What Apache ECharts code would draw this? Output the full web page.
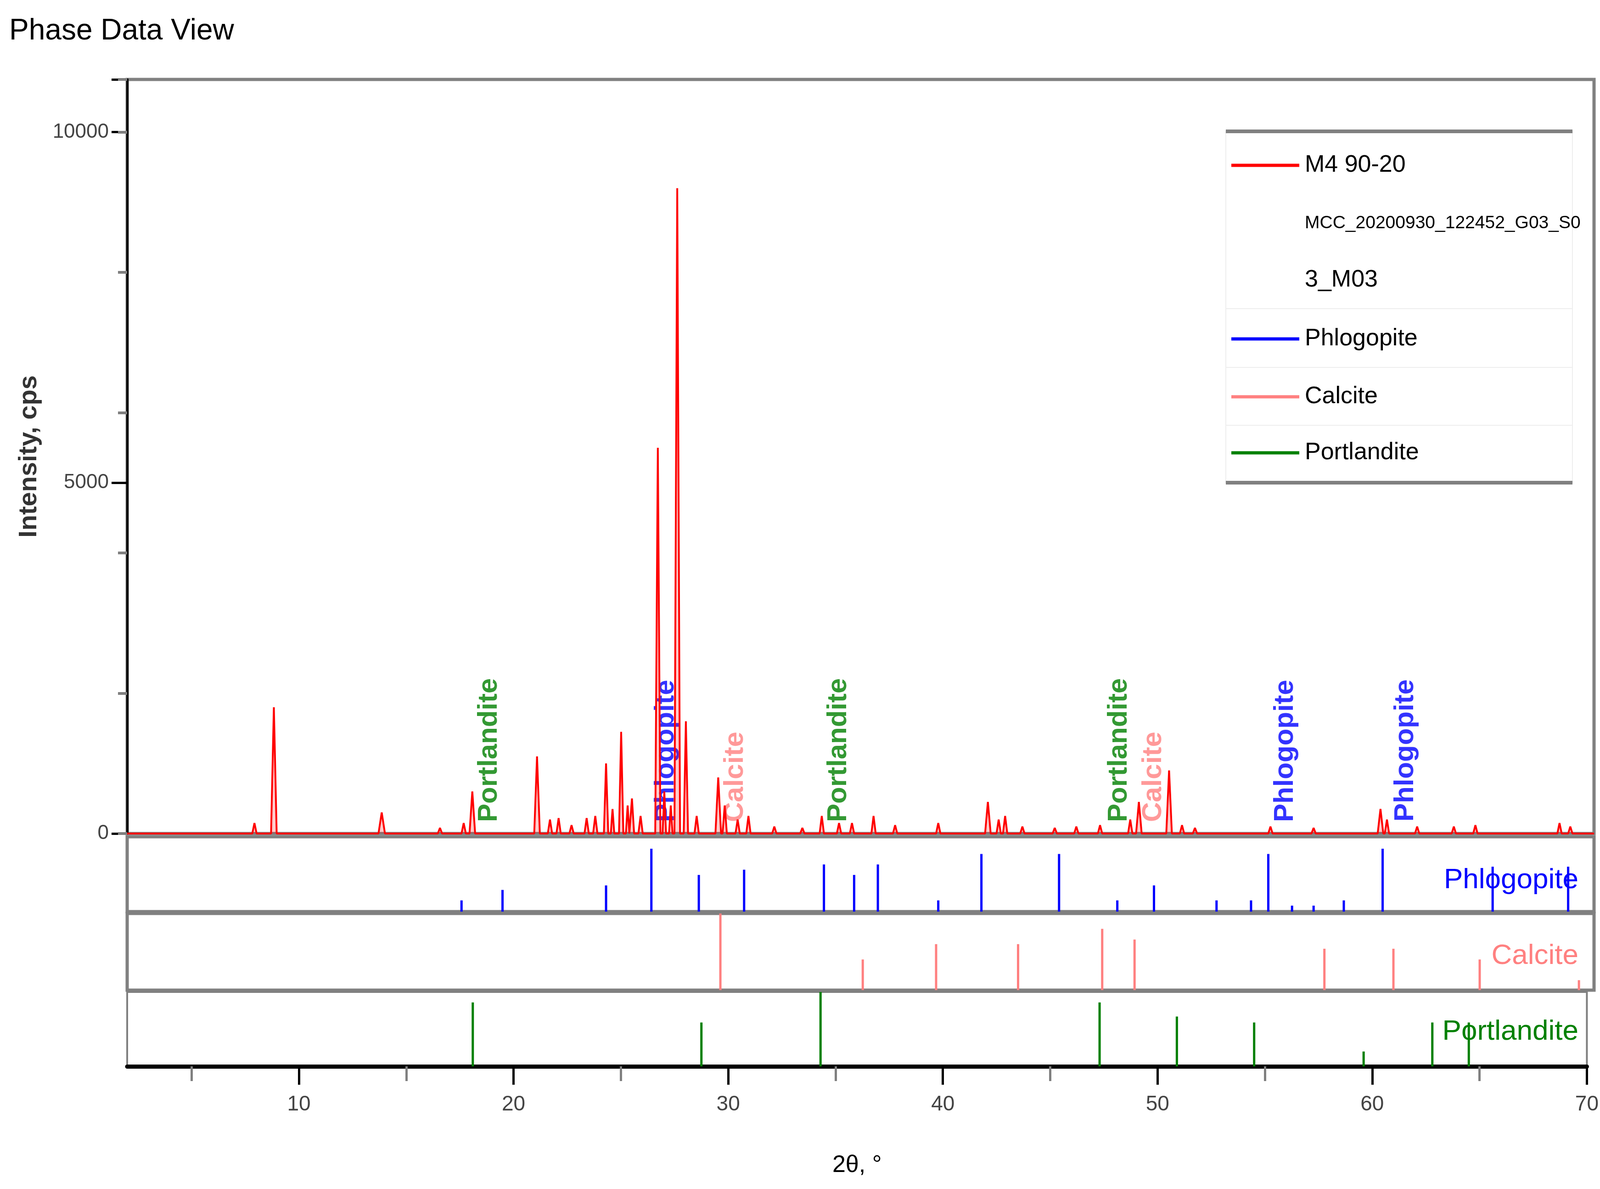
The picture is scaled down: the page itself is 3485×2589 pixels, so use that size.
<!DOCTYPE html>
<html><head><meta charset="utf-8">
<script src="https://cdn.jsdelivr.net/npm/echarts@6/dist/echarts.min.js"></script>
<style>html,body{margin:0;padding:0;background:#fff}#c{width:3485px;height:2589px}</style>
</head><body><div id="c"></div>
<script>
// measured peaks of M4 90-20: [2theta, intensity cps, half-width]
const peaks = [[7.9,150,0.1],[8.8,1800,0.13],[13.8,300,0.15],[16.5,80,0.1],[17.6,150,0.1],[18.0,600,0.13],[21.0,1100,0.13],[21.6,200,0.1],[22.0,220,0.1],[22.6,120,0.1],[23.3,220,0.1],[23.7,250,0.1],[24.2,1000,0.1],[24.5,350,0.08],[24.9,1450,0.1],[25.2,400,0.08],[25.4,500,0.1],[25.8,250,0.1],[26.6,5500,0.12],[26.9,600,0.08],[27.2,400,0.08],[27.5,9200,0.13],[27.9,1600,0.1],[28.4,250,0.1],[29.4,800,0.13],[29.7,400,0.1],[30.3,200,0.1],[30.8,250,0.1],[32.0,100,0.1],[33.3,80,0.1],[34.2,250,0.1],[35.0,150,0.1],[35.6,150,0.1],[36.6,250,0.1],[37.6,120,0.1],[39.6,150,0.1],[41.9,450,0.13],[42.4,200,0.1],[42.7,250,0.1],[43.5,100,0.1],[45.0,80,0.1],[46.0,100,0.1],[47.1,120,0.1],[48.5,200,0.1],[48.9,450,0.13],[50.3,900,0.13],[50.9,120,0.1],[51.5,80,0.1],[55.0,100,0.1],[57.0,80,0.1],[60.1,350,0.13],[60.4,200,0.1],[61.8,100,0.1],[63.5,100,0.1],[64.5,120,0.1],[68.4,150,0.1],[68.9,100,0.1]];
// reference sticks: [2theta, relative intensity %]
const phlogopite = [[17.5,15],[19.4,29],[24.2,35],[26.3,84],[28.5,49],[30.6,56],[34.3,63],[35.7,49],[36.8,63],[39.6,15],[41.6,77],[45.2,77],[47.9,15],[49.6,35],[52.5,15],[54.1,15],[54.9,77],[56.0,8],[57.0,8],[58.4,15],[60.2,84],[65.3,60],[68.8,60]];
const calcite = [[29.5,100],[36.1,40],[39.5,60],[43.3,60],[47.2,80],[48.7,66],[57.5,54],[60.7,54],[64.7,40],[69.3,13]];
const portlandite = [[18.1,86],[28.75,59],[34.3,100],[47.3,86],[50.9,67],[54.5,59],[59.6,20],[62.8,59],[64.5,59]];
const peakLabels = [[18.1,'Portlandite','#008000'],[26.3,'Phlogopite','#0000ff'],[29.5,'Calcite','#ff8080'],[34.3,'Portlandite','#008000'],[47.3,'Portlandite','#008000'],[48.9,'Calcite','#ff8080'],[55.0,'Phlogopite','#0000ff'],[60.6,'Phlogopite','#0000ff']];
const xTicks = [10,20,30,40,50,60,70];
const xMinorTicks = [5,15,25,35,45,55,65];

const F = '"Liberation Sans Narrow","Liberation Sans",Arial,sans-serif';
let lineData = [[2,0]];
peaks.slice().sort((a,b)=>a[0]-b[0]).forEach(p=>{lineData.push([p[0]-p[2],0],[p[0],p[1]],[p[0]+p[2],0]);});
lineData.push([70,0]);

const chart = echarts.init(document.getElementById('c'));
const grids = [
  {left:277,right:13,top:173,height:1642,show:true,borderColor:'#808080',borderWidth:7},
  {left:277,right:13,top:1822,height:163,show:true,borderColor:'#808080',borderWidth:7},
  {left:277,right:13,top:1989,height:167,show:true,borderColor:'#808080',borderWidth:7},
  {left:277,right:13,top:2160,height:162,show:true,borderColor:'#808080',borderWidth:4}
];
const xAxes = grids.map((g,i)=>({type:'value',gridIndex:i,min:2,max:70,
  axisLine:{show:i===3,lineStyle:{color:'#000',width:9}},
  axisTick:{show:i===3,length:40,customValues:xTicks,lineStyle:{color:'#000',width:5}},
  axisLabel:{show:i===3,customValues:xTicks,color:'#444',fontFamily:F,fontSize:46,margin:60},
  splitLine:{show:false},
  name:i===3?'2θ, °':'',nameLocation:'middle',nameGap:190,nameTextStyle:{fontFamily:F,fontSize:52,color:'#000'}}));
xAxes.push({type:'value',gridIndex:3,min:2,max:70,position:'bottom',
  axisLine:{show:false},axisTick:{show:true,length:32,customValues:xMinorTicks,lineStyle:{color:'#808080',width:5}},
  axisLabel:{show:false},splitLine:{show:false}});
const yAxes = [
  {type:'value',gridIndex:0,min:0,max:10750,interval:5000,
   axisLine:{show:true,lineStyle:{color:'#000',width:5}},
   axisTick:{show:true,length:34,lineStyle:{color:'#000',width:5}},
   axisLabel:{color:'#444',fontFamily:F,fontSize:44,margin:40,formatter:v=>v<=10000?String(v):''},
   splitLine:{show:false},
   name:'Intensity, cps',nameLocation:'middle',nameGap:185,nameTextStyle:{fontFamily:'Liberation Sans,Arial',fontWeight:'bold',fontSize:56,color:'#333'}},
  {type:'value',gridIndex:0,min:0,max:10750,interval:2000,position:'left',
   axisLine:{show:false},axisTick:{show:true,length:20,lineStyle:{color:'#808080',width:6}},
   axisLabel:{show:false},splitLine:{show:false}},
  {type:'value',gridIndex:1,min:0,max:100,show:false},
  {type:'value',gridIndex:2,min:0,max:100,show:false},
  {type:'value',gridIndex:3,min:0,max:100,show:false}
];
function sticks(data,xi,yi,color,name){
  return {type:'bar',name:name,xAxisIndex:xi,yAxisIndex:yi,data:data,barWidth:5,barGap:'-100%',
    itemStyle:{color:color},silent:true,animation:false};
}
const series = [
  {type:'line',name:'M4 90-20',xAxisIndex:0,yAxisIndex:0,data:lineData,showSymbol:false,
   lineStyle:{color:'#ff0000',width:4},areaStyle:{color:'#ff0000',opacity:0.2},animation:false},
  {type:'scatter',xAxisIndex:0,yAxisIndex:0,symbolSize:0,animation:false,
   data:peakLabels.map(p=>({value:[p[0],0],label:{show:true,formatter:p[1],color:p[2],rotate:90,
     fontFamily:'Liberation Sans,Arial',fontWeight:'bold',fontSize:60,position:[32,-25],align:'left',verticalAlign:'middle'}}))},
  sticks(phlogopite,1,2,'#0000ff','Phlogopite'),
  sticks(calcite,2,3,'#ff8080','Calcite'),
  sticks(portlandite,3,4,'#008000','Portlandite')
];
const LX=2670, LW=755;
const legRows=[[360,'#ff0000','M4 90-20'],[486,null,'MCC_20200930_122452_G03_S0'],[610,null,'3_M03'],[738,'#0000ff','Phlogopite'],[864,'#ff8080','Calcite'],[986,'#008000','Portlandite']];
const graphic=[
  {type:'text',left:20,top:36,style:{text:'Phase Data View',fontFamily:F,fontSize:64,fill:'#000'}},
  {type:'rect',shape:{x:LX,y:286,width:LW,height:765},style:{fill:'#fff',stroke:'#eee',lineWidth:2},z:10},
  {type:'line',shape:{x1:LX,y1:286,x2:LX+LW,y2:286},style:{stroke:'#808080',lineWidth:8},z:11},
  {type:'line',shape:{x1:LX,y1:1051,x2:LX+LW,y2:1051},style:{stroke:'#808080',lineWidth:8},z:11},
  {type:'text',x:3438,y:1917,style:{text:'Phlogopite',fontFamily:F,fontSize:62,fill:'#0000ff',align:'right',verticalAlign:'middle'},z:11},
  {type:'text',x:3438,y:2082,style:{text:'Calcite',fontFamily:F,fontSize:62,fill:'#ff8080',align:'right',verticalAlign:'middle'},z:11},
  {type:'text',x:3438,y:2247,style:{text:'Portlandite',fontFamily:F,fontSize:62,fill:'#008000',align:'right',verticalAlign:'middle'},z:11}
];
legRows.forEach((r,i)=>{
  if(r[1]) graphic.push({type:'line',shape:{x1:2682,y1:r[0],x2:2830,y2:r[0]},style:{stroke:r[1],lineWidth:7},z:11});
  graphic.push({type:'text',x:2842,y:r[0],style:{text:r[2],fontFamily:F,fontSize:i===1?39:52,fill:'#000',verticalAlign:'middle'},z:11});
  if(i>=2 && i<5) graphic.push({type:'line',shape:{x1:LX,y1:r[0]+62,x2:LX+LW,y2:r[0]+62},style:{stroke:'#eeeeee',lineWidth:2},z:11});
});
chart.setOption({animation:false,grid:grids,xAxis:xAxes,yAxis:yAxes,series:series,graphic:graphic});
</script></body></html>
